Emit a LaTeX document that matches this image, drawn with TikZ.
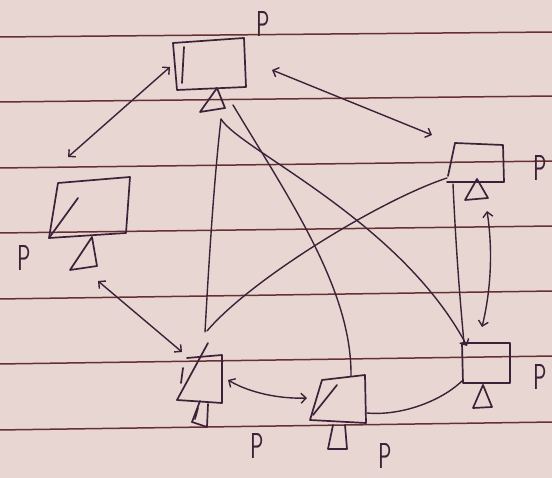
\documentclass[tikz,border=0pt]{standalone}
\usepackage{fontspec}
\usetikzlibrary{arrows.meta}
\definecolor{paper}{RGB}{231,214,209}
\definecolor{rulec}{RGB}{104,48,52}
\definecolor{ink}{RGB}{60,34,56}
\begin{document}
\begin{tikzpicture}[x=1pt,y=-1pt,
  inkline/.style={draw=ink,line width=1.7pt,line join=round,line cap=round},
  ruleline/.style={draw=rulec,line width=1.5pt},
  conn/.style={draw=ink,line width=1.4pt,line cap=round},
  biarrow/.style={conn,{Straight Barb[length=5pt,width=10pt]}-{Straight Barb[length=5pt,width=10pt]}},
  endarrow/.style={conn,-{Straight Barb[length=5pt,width=10pt]}},
  plabel/.style={text=ink,font=\sffamily\fontsize{36}{36}\selectfont,xscale=0.62,transform shape,inner sep=0pt}]
\clip (0,0) rectangle (552,478);
\fill[paper] (0,0) rectangle (552,478);
% ruled paper
\foreach \a/\b in {37/32,102/96,168/161,233/226,299/291,364/356,430/422}
  \draw[ruleline] (-2,\a) -- (554,\b);

% ---- top box T ----
\coordinate (T1) at (173,43); \coordinate (T2) at (244,38);
\coordinate (T3) at (246,87); \coordinate (T4) at (177,90);
\draw[inkline] (T1) -- (T2) -- (T3) -- (T4) -- cycle;
\draw[inkline] (184,47) -- (182,83);
\coordinate (Ttip) at (217,88);
\draw[inkline] (200,112) -- (Ttip) -- (225,108) -- cycle;
\node[plabel] (PT) at (263,24) {P};

% ---- left box L ----
\coordinate (L1) at (58,183); \coordinate (L2) at (130,177);
\coordinate (L3) at (126,233); \coordinate (L4) at (49,238);
\draw[inkline] (L1) -- (L2) -- (L3) -- (L4) -- cycle;
\draw[inkline] (L4) -- (78,198);
\draw[inkline] (70,270) -- (92,237) -- (97,266) -- cycle;
\node[plabel] (PL) at (24,258) {P};

% ---- right upper box R ----
\coordinate (R1) at (455,143); \coordinate (R2) at (503,145);
\coordinate (R3) at (504,182); \coordinate (R4) at (447,182);
\draw[inkline] (R1) -- (R2) -- (R3) -- (R4);
\draw[inkline] (R1) -- (448,176);
\draw[inkline] (465,200) -- (477,179) -- (488,198) -- cycle;
\node[plabel] (PR) at (540,168) {P};

% ---- bottom left box A ----
\coordinate (A1) at (187,358); \coordinate (A2) at (222,355);
\coordinate (A3) at (222,403); \coordinate (A4) at (177,400);
\draw[inkline] (A1) -- (A2) -- (A3) -- (A4);
\draw[inkline] (A4) -- (208,343);
\draw[inkline] (183,368) -- (181,383);
\draw[inkline] (200,401) -- (192,422) -- (207,427) -- (208,404);
\draw[inkline] (195,419) -- (198,408);
\node[plabel] (PA) at (257,446) {P};

% ---- bottom middle box B ----
\coordinate (B1) at (322,380); \coordinate (B2) at (365,375);
\coordinate (B3) at (366,423); \coordinate (B4) at (310,420);
\draw[inkline] (B1) -- (B2) -- (B3) -- (B4) -- cycle;
\draw[inkline] (313,415) -- (337,385);
\draw[inkline] (333,425) -- (328,449) -- (347,449) -- (345,425);
\node[plabel] (PB) at (385,456) {P};

% ---- bottom right box C ----
\coordinate (C1) at (462,343); \coordinate (C2) at (510,343);
\coordinate (C3) at (510,383); \coordinate (C4) at (463,383);
\draw[inkline] (C1) -- (C2) -- (C3) -- (C4) -- cycle;
\draw[inkline] (473,408) -- (483,385) -- (492,407) -- cycle;
\node[plabel] (PC) at (540,377) {P};

% ---- connector end points ----
\coordinate (tl1) at (170,67);  \coordinate (tl2) at (68,157);
\coordinate (tr1) at (272,70);  \coordinate (tr2) at (432,135);
\coordinate (la1) at (98,281);  \coordinate (la2) at (182,352);
\coordinate (ab1) at (228,380); \coordinate (ab2) at (307,398);
\coordinate (rc1) at (487,211); \coordinate (rc2) at (482,327);
\coordinate (bc1) at (367,413); \coordinate (bc2) at (462,381);
\coordinate (at1) at (205,332); \coordinate (tjoin) at (221,119);
\coordinate (tb1) at (233,105); \coordinate (tb2) at (351,376);
\coordinate (tc2) at (467,346);
\coordinate (ra1) at (447,178); \coordinate (ra2) at (207,331);
\coordinate (rv1) at (453,184); \coordinate (rv2) at (464,343);

% ---- connectors ----
\draw[biarrow] (tl1) -- (tl2);
\draw[biarrow] (tr1) -- (tr2);
\draw[biarrow] (la1) -- (la2);
\draw[biarrow] (ab1) .. controls (250,393) and (280,399) .. (ab2);
\draw[biarrow] (rc1) .. controls (493,250) and (491,290) .. (rc2);
\draw[conn] (bc1) .. controls (400,416) and (440,402) .. (bc2);
\draw[conn] (at1) .. controls (209,260) and (214,180) .. (tjoin);
\draw[endarrow] (tjoin) .. controls (240,150) and (400,220) .. (tc2);
\draw[conn] (tb1) .. controls (290,200) and (352,290) .. (tb2);
\draw[conn] (ra1) .. controls (380,200) and (250,280) .. (ra2);
\draw[conn] (rv1) .. controls (456,250) and (460,300) .. (rv2);
\end{tikzpicture}
\end{document}
